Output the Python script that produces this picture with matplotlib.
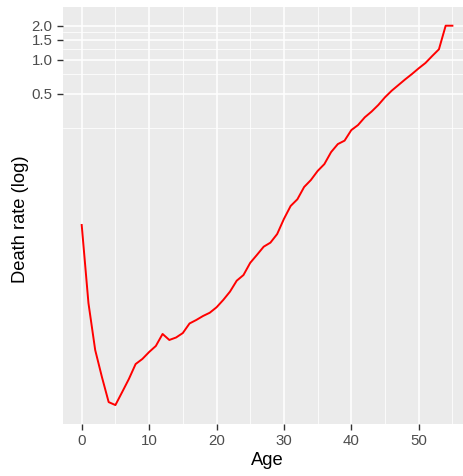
import numpy as np
import matplotlib.pyplot as plt
from matplotlib.ticker import FixedLocator, FixedFormatter

# Edades y tasa de mortalidad
age = list(range(0, 56))
death_rate = [
    0.0344, 0.00701, 0.00269, 0.00155, 0.00093, 0.000875, 0.00114, 0.00149,
    0.00202, 0.00224, 0.00258, 0.00292, 0.00373, 0.00330, 0.00347, 0.00380,
    0.00462, 0.00496, 0.00538, 0.00575, 0.00642, 0.00746, 0.00884, 0.01105,
    0.0124, 0.0159, 0.0187, 0.0221, 0.0240, 0.0286, 0.0389, 0.0507,
    0.0581, 0.0746, 0.0860, 0.1034, 0.119, 0.152, 0.179, 0.192,
    0.238, 0.264, 0.309, 0.347, 0.397, 0.465, 0.532, 0.597,
    0.670, 0.747, 0.839, 0.935, 1.078, 1.236, 2.0, 2.0,
]

y_breaks = [0.5, 1.0, 1.5, 2.0]
y_labels = ['0.5', '1.0', '1.5', '2.0']
y_minor = [0.25, 0.75, 1.25, 1.75]
x_breaks = [0, 10, 20, 30, 40, 50]
x_minor = [5, 15, 25, 35, 45, 55]

plt.rcParams['font.family'] = ['Liberation Sans', 'DejaVu Sans']

fig = plt.figure(figsize=(4.64, 4.76), dpi=100)
ax = fig.add_axes([63 / 464, 1 - 424 / 476, 401 / 464, 417 / 476])
ax.set_facecolor('#EBEBEB')

ax.set_yscale('log')
ax.set_xlim(-2.775, 56.72)
ax.set_ylim(0.000595, 2.928)

# Rejilla al estilo ggplot
for v in y_minor:
    ax.axhline(v, color='white', lw=0.55, zorder=0.5)
for v in y_breaks:
    ax.axhline(v, color='white', lw=1.1, zorder=0.6)
for v in x_minor:
    ax.axvline(v, color='white', lw=0.55, zorder=0.5)
for v in x_breaks:
    ax.axvline(v, color='white', lw=1.1, zorder=0.6)

ax.plot(age, death_rate, color='red', lw=1.4, zorder=2)

ax.yaxis.set_major_locator(FixedLocator(y_breaks))
ax.yaxis.set_major_formatter(FixedFormatter(y_labels))
ax.yaxis.set_minor_locator(FixedLocator([]))
ax.xaxis.set_major_locator(FixedLocator(x_breaks))

for s in ax.spines.values():
    s.set_visible(False)

ax.tick_params(axis='both', which='major', length=4.5, width=1.0, color='#333333',
               labelcolor='#4D4D4D', labelsize=10.8, pad=3)

ax.set_xlabel('Age', fontsize=13.2, color='black')
ax.set_ylabel('Death rate (log)', fontsize=13.2, color='black')
ax.xaxis.set_label_coords((267 - 63) / 401, -0.066)
ax.yaxis.set_label_coords(-(63 - 29) / 401, 0.49)

fig.savefig('out.png', dpi=100)
